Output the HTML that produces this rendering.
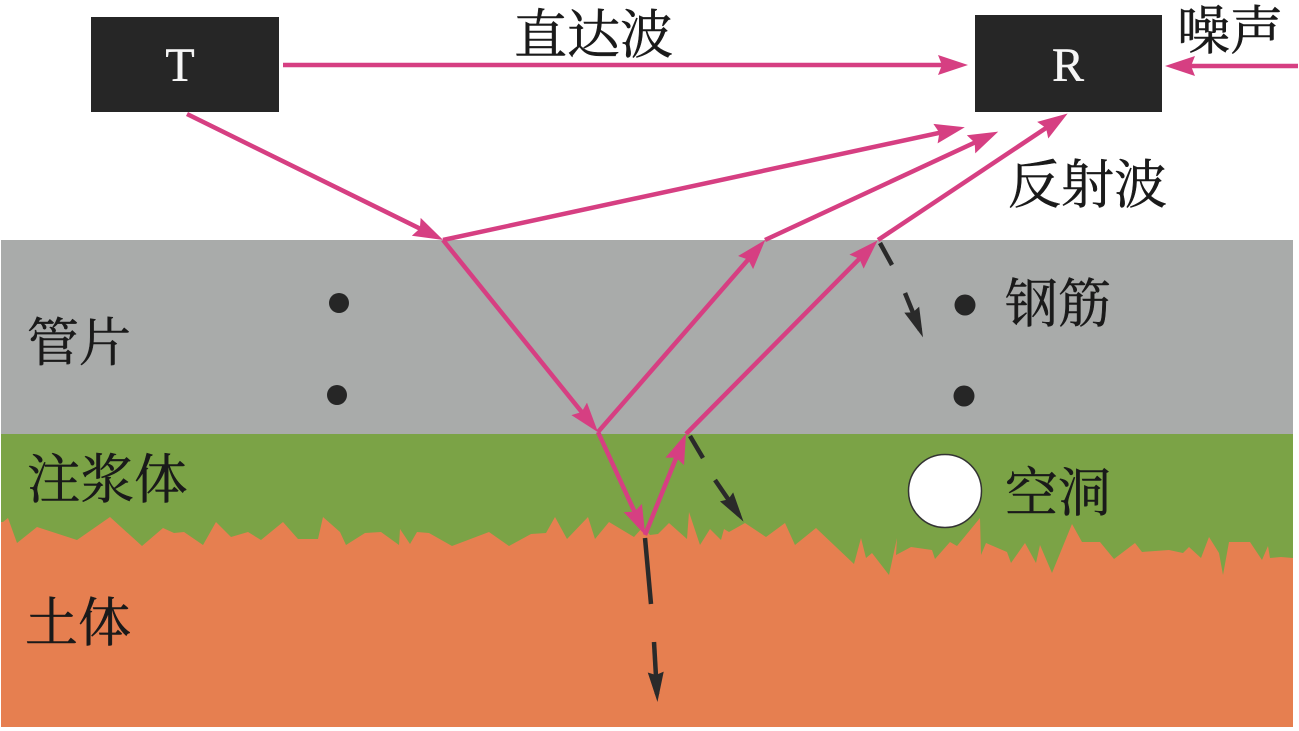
<!DOCTYPE html>
<html lang="zh">
<head>
<meta charset="utf-8">
<title>Diagram</title>
<style>
html,body{margin:0;padding:0;background:#fff;width:1299px;height:731px;overflow:hidden}
svg{display:block}
.c{font-family:"Liberation Serif","Noto Serif CJK SC",serif;font-size:52px;fill:#1a1a1a;stroke:#1a1a1a;stroke-width:.5}
.w{font-size:53.500px}
.l{font-family:"Liberation Serif",serif;font-size:48px;fill:#f6f6f6;stroke:#f6f6f6;stroke-width:.4;text-anchor:middle}
.p{stroke:#d63f82;stroke-width:4.500;fill:none}
.k{stroke:#2a2a2a;stroke-width:4.500;fill:none}
</style>
</head>
<body>
<svg width="1299" height="731" viewBox="0 0 1299 731" xmlns="http://www.w3.org/2000/svg">
<defs>
<marker id="pa" markerUnits="userSpaceOnUse" markerWidth="34" markerHeight="26" refX="22" refY="13" orient="auto">
<path d="M0,3 L30,13 L0,23 L4,13Z" fill="#d63f82"/>
</marker>
<marker id="ka" markerUnits="userSpaceOnUse" markerWidth="34" markerHeight="26" refX="22" refY="13" orient="auto">
<path d="M0,5 L30,13 L0,21 L3,13Z" fill="#2a2a2a"/>
</marker>
</defs>

<rect x="1" y="240" width="1292" height="194" fill="#a9abaa"/>
<rect x="1" y="434" width="1292" height="145" fill="#7ba346"/>
<polygon fill="#e67f50" points="1,727 1,522 3,522 8,518 17,543 37,527 77,540 110,517 142,546 163,528 174,533 184,532 203,545 216,522 231,537 248,532 261,540 283,522 298,539 318,539 323,517 340,532 346,545 365,533 381,532 399,545 400,529 410,544 417,532 429,533 452,546 489,532 509,546 531,534 546,533 555,517 567,539 588,517 595,539 609,522 634,537 643,527 650,535 658,534 669,523 687,539 689,512 700,545 710,529 721,540 724,529 729,532 745,523 766,537 785,523 795,545 816,528 854,564 861,538 866,558 872,553 889,575 897,538 896,555 911,547 932,550 935,559 950,542 957,546 980,518 981,555 986,543 1007,552 1011,563 1025,543 1036,563 1040,545 1052,573 1072,524 1082,542 1100,542 1114,559 1135,543 1142,552 1169,550 1183,553 1189,547 1201,558 1209,537 1219,553 1223,575 1229,542 1250,542 1262,560 1268,546 1270,558 1281,557 1293,558 1293,727"/>

<rect x="91" y="17" width="188" height="95" fill="#262626"/>
<rect x="975" y="15" width="187" height="97" fill="#262626"/>
<text class="l" x="180" y="81">T</text>
<text class="l" x="1068" y="81">R</text>

<circle cx="339" cy="303" r="10" fill="#262626"/>
<circle cx="337" cy="395" r="10" fill="#262626"/>
<circle cx="965" cy="305" r="10.500" fill="#262626"/>
<circle cx="964" cy="396" r="10.500" fill="#262626"/>
<ellipse cx="945" cy="491" rx="36.500" ry="36.500" fill="#fff" stroke="#333" stroke-width="1.500"/>

<line class="p" x1="283" y1="65" x2="960" y2="65" marker-end="url(#pa)"/>
<line class="p" x1="1298" y1="66" x2="1173" y2="66" marker-end="url(#pa)"/>
<line class="p" x1="187" y1="114" x2="436" y2="236.500" marker-end="url(#pa)"/>
<line class="p" x1="443" y1="240" x2="957" y2="129" marker-end="url(#pa)"/>
<line class="p" x1="443" y1="240" x2="593" y2="426" marker-end="url(#pa)"/>
<line class="p" x1="598" y1="432" x2="760" y2="246" marker-end="url(#pa)"/>
<line class="p" x1="765" y1="240" x2="991" y2="135" marker-end="url(#pa)"/>
<line class="p" x1="598" y1="432" x2="642" y2="528" marker-end="url(#pa)"/>
<line class="p" x1="645" y1="535" x2="683" y2="441" marker-end="url(#pa)"/>
<line class="p" x1="686" y1="434" x2="872" y2="246" marker-end="url(#pa)"/>
<line class="p" x1="878" y1="240" x2="1061" y2="118" marker-end="url(#pa)"/>

<line class="k" x1="880" y1="243" x2="892" y2="265"/>
<line class="k" x1="905" y1="293" x2="920" y2="330" marker-end="url(#ka)"/>
<line class="k" x1="690" y1="436" x2="703" y2="458"/>
<line class="k" x1="715" y1="480" x2="739" y2="515" marker-end="url(#ka)"/>
<line class="k" x1="645" y1="538" x2="651" y2="604"/>
<line class="k" x1="654" y1="642" x2="657" y2="694" marker-end="url(#ka)"/>

<text class="c" x="514" y="53" style="font-size:53px">直达波</text>
<text class="c" x="1177" y="49" style="font-size:53px">噪声</text>
<text class="c" x="1008" y="203" style="font-size:53px">反射波</text>
<text class="c" x="27" y="361">管片</text>
<text class="c" x="1005" y="322" style="font-size:53px">钢筋</text>
<text class="c w" x="27" y="498">注浆体</text>
<text class="c" x="1005" y="511" style="font-size:53px">空洞</text>
<text class="c" x="25" y="641" style="font-size:53px">土体</text>
</svg>
</body>
</html>
